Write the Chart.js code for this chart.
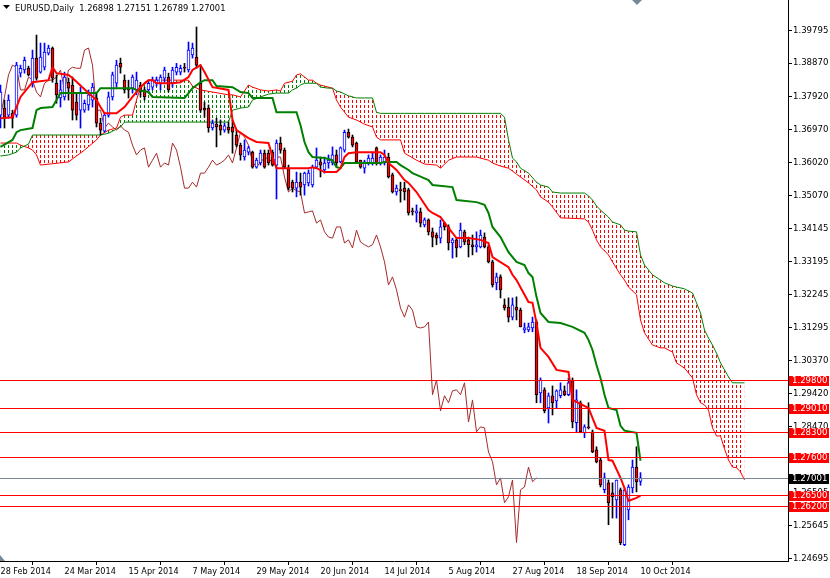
<!DOCTYPE html>
<html>
<head>
<meta charset="utf-8">
<title>EURUSD Daily</title>
<script src="https://cdn.jsdelivr.net/npm/chart.js@4.4.1/dist/chart.umd.min.js"></script>
<style>
  html, body { margin: 0; padding: 0; background: #fff; }
  canvas { display: block; }
</style>
</head>
<body>
<canvas id="chart" width="830" height="578"></canvas>
<script>
// daily bars, bar 0 = 28 Feb 2014 ... bar 160 = 10 Oct 2014
const opens = [
  1.3738,1.3758,1.3738,1.3743,1.3738,1.3858,1.3867,1.3872,1.3832,1.3901,
  1.3861,1.3875,1.3915,1.3930,1.3829,1.3787,1.3790,1.3832,1.3824,1.3775,
  1.3752,1.3752,1.3767,1.3781,1.3787,1.3715,1.3692,1.3738,1.3790,1.3829,
  1.3886,1.3838,1.3815,1.3815,1.3810,1.3824,1.3810,1.3810,1.3818,1.3829,
  1.3829,1.3844,1.3847,1.3829,1.3861,1.3861,1.3875,1.3867,1.3910,1.3904,
  1.3829,1.3758,1.3758,1.3701,1.3712,1.3709,1.3695,1.3704,1.3704,1.3681,
  1.3652,1.3618,1.3632,1.3632,1.3589,1.3601,1.3629,1.3629,1.3632,1.3595,
  1.3658,1.3638,1.3586,1.3546,1.3529,1.3546,1.3538,1.3544,1.3538,1.3589,
  1.3604,1.3581,1.3601,1.3601,1.3624,1.3604,1.3638,1.3689,1.3675,1.3658,
  1.3609,1.3586,1.3601,1.3601,1.3644,1.3601,1.3601,1.3618,1.3567,1.3518,
  1.3524,1.3529,1.3524,1.3464,1.3458,1.3461,1.3424,1.3438,1.3404,1.3395,
  1.3386,1.3429,1.3418,1.3372,1.3381,1.3361,1.3404,1.3381,1.3367,1.3361,
  1.3361,1.3389,1.3361,1.3318,1.3258,1.3275,1.3195,1.3189,1.3160,1.3189,
  1.3180,1.3123,1.3123,1.3129,1.3146,1.2943,1.2952,1.2900,1.2935,1.2920,
  1.2935,1.2949,1.2938,1.2980,1.2858,1.2915,1.2829,1.2846,1.2832,1.2780,
  1.2751,1.2666,1.2686,1.2657,1.2637,1.2666,1.2509,1.2608,1.2671,1.2731,
  1.26898
];
const highs = [
  1.3824,1.3781,1.3796,1.3752,1.3889,1.3881,1.3904,1.3878,1.3924,1.3967,
  1.3944,1.3944,1.3938,1.3933,1.3853,1.3838,1.3861,1.3844,1.3847,1.3801,
  1.3818,1.3781,1.3810,1.3829,1.3801,1.3729,1.3743,1.3804,1.3861,1.3895,
  1.3901,1.3853,1.3838,1.3853,1.3861,1.3832,1.3818,1.3838,1.3847,1.3847,
  1.3853,1.3875,1.3858,1.3875,1.3886,1.3881,1.3886,1.3947,1.3944,1.3990,
  1.3881,1.3775,1.3767,1.3724,1.3729,1.3724,1.3715,1.3718,1.3724,1.3695,
  1.3658,1.3667,1.3649,1.3635,1.3615,1.3638,1.3638,1.3638,1.3638,1.3667,
  1.3675,1.3644,1.3595,1.3552,1.3575,1.3572,1.3575,1.3581,1.3595,1.3644,
  1.3618,1.3618,1.3624,1.3647,1.3638,1.3647,1.3695,1.3698,1.3681,1.3661,
  1.3609,1.3609,1.3624,1.3629,1.3647,1.3624,1.3638,1.3629,1.3572,1.3538,
  1.3546,1.3546,1.3529,1.3472,1.3481,1.3472,1.3444,1.3441,1.3415,1.3401,
  1.3438,1.3432,1.3424,1.3386,1.3386,1.3429,1.3409,1.3389,1.3395,1.3404,
  1.3409,1.3401,1.3367,1.3323,1.3286,1.3281,1.3212,1.3215,1.3215,1.3218,
  1.3186,1.3143,1.3143,1.3160,1.3152,1.2986,1.2958,1.2943,1.2963,1.2952,
  1.2972,1.2963,1.2986,1.2986,1.2952,1.2920,1.2852,1.2915,1.2837,1.2789,
  1.2757,1.2714,1.2694,1.2686,1.2694,1.2671,1.2671,1.2680,1.2751,1.2789,
  1.27151
];
const lows = [
  1.3701,1.3701,1.3729,1.3701,1.3732,1.3847,1.3858,1.3850,1.3818,1.3838,
  1.3858,1.3867,1.3910,1.3832,1.3772,1.3761,1.3781,1.3781,1.3724,1.3724,
  1.3701,1.3746,1.3752,1.3761,1.3704,1.3681,1.3689,1.3732,1.3781,1.3818,
  1.3858,1.3801,1.3787,1.3801,1.3796,1.3790,1.3781,1.3801,1.3810,1.3821,
  1.3810,1.3832,1.3804,1.3818,1.3853,1.3853,1.3861,1.3861,1.3901,1.3872,
  1.3746,1.3732,1.3689,1.3695,1.3647,1.3681,1.3689,1.3686,1.3629,1.3647,
  1.3609,1.3609,1.3624,1.3586,1.3586,1.3595,1.3586,1.3595,1.3592,1.3498,
  1.3629,1.3586,1.3524,1.3518,1.3504,1.3509,1.3509,1.3535,1.3532,1.3586,
  1.3561,1.3572,1.3586,1.3595,1.3592,1.3601,1.3632,1.3672,1.3647,1.3601,
  1.3586,1.3572,1.3595,1.3595,1.3595,1.3595,1.3595,1.3558,1.3515,1.3509,
  1.3489,1.3495,1.3452,1.3452,1.3432,1.3418,1.3418,1.3395,1.3361,1.3367,
  1.3372,1.3409,1.3352,1.3329,1.3332,1.3358,1.3367,1.3332,1.3338,1.3346,
  1.3358,1.3358,1.3315,1.3246,1.3238,1.3215,1.3180,1.3146,1.3152,1.3152,
  1.3132,1.3115,1.3118,1.3118,1.2915,1.2915,1.2886,1.2857,1.2880,1.2900,
  1.2929,1.2935,1.2935,1.2843,1.2832,1.2829,1.2815,1.2840,1.2772,1.2743,
  1.2674,1.2657,1.2566,1.2585,1.2585,1.2509,1.2506,1.2580,1.2657,1.2660,
  1.26789
];
const closes = [
  1.3804,1.3732,1.3781,1.3729,1.3881,1.3872,1.3895,1.3853,1.3901,1.3844,
  1.3904,1.3918,1.3930,1.3844,1.3796,1.3810,1.3847,1.3815,1.3752,1.3738,
  1.3801,1.3772,1.3796,1.3818,1.3715,1.3695,1.3738,1.3790,1.3853,1.3881,
  1.3875,1.3810,1.3810,1.3847,1.3838,1.3804,1.3790,1.3829,1.3838,1.3838,
  1.3847,1.3867,1.3810,1.3867,1.3875,1.3872,1.3872,1.3924,1.3930,1.3881,
  1.3752,1.3752,1.3701,1.3715,1.3704,1.3695,1.3707,1.3695,1.3689,1.3652,
  1.3624,1.3638,1.3644,1.3589,1.3609,1.3629,1.3589,1.3601,1.3595,1.3658,
  1.3638,1.3589,1.3529,1.3529,1.3546,1.3532,1.3572,1.3572,1.3589,1.3609,
  1.3595,1.3601,1.3609,1.3624,1.3601,1.3644,1.3689,1.3675,1.3652,1.3604,
  1.3589,1.3604,1.3615,1.3615,1.3601,1.3618,1.3618,1.3561,1.3518,1.3529,
  1.3522,1.3518,1.3458,1.3461,1.3464,1.3429,1.3438,1.3404,1.3389,1.3386,
  1.3418,1.3418,1.3372,1.3381,1.3358,1.3409,1.3375,1.3367,1.3361,1.3367,
  1.3395,1.3361,1.3318,1.3252,1.3275,1.3238,1.3186,1.3160,1.3195,1.3180,
  1.3132,1.3129,1.3132,1.3146,1.2938,1.2980,1.2892,1.2935,1.2915,1.2949,
  1.2952,1.2938,1.2972,1.2860,1.2923,1.2832,1.2846,1.2843,1.2774,1.2746,
  1.2680,1.2700,1.2629,1.2646,1.2694,1.2515,1.2666,1.2674,1.2731,1.2689,
  1.27001
];

// Ichimoku lines at their turning bars
const tenkanBars = [0,3,4,5,8,12,13,14,17,18,22,24,25,26,29,31,33,35,37,38,39,43,45,47,48,50,51,53,57,58,
  59,62,64,67,68,69,77,78,79,81,84,85,86,87,89,95,96,97,99,101,102,104,107,108,110,112,114,117,120,122,
  123,127,128,129,132,133,134,135,137,139,142,143,147,149,151,152,153,155,156,157,159,160];
const tenkan = [1.3729,1.3732,1.3761,1.3790,1.3832,1.3838,1.3875,1.3858,1.3853,1.3844,
  1.3801,1.3781,1.3761,1.3743,1.3743,1.3761,1.3790,1.3818,1.3838,1.3838,
  1.3829,1.3829,1.3832,1.3847,1.3867,1.3881,1.3861,1.3818,1.3810,1.3724,
  1.3695,1.3672,1.3661,1.3658,1.3618,1.3586,1.3586,1.3589,1.3586,1.3575,
  1.3575,1.3586,1.3618,1.3629,1.3632,1.3632,1.3624,1.3601,1.3581,1.3552,
  1.3544,1.3518,1.3466,1.3458,1.3446,1.3415,1.3386,1.3386,1.3381,1.3372,
  1.3332,1.3303,1.3281,1.3266,1.3203,1.3201,1.3143,1.3072,1.3046,1.3009,
  1.3003,1.2923,1.2900,1.2843,1.2835,1.2751,1.2749,1.2700,1.2671,1.2634,
  1.2643,1.2649];

const kijunBars = [0,3,4,5,8,9,10,13,14,15,24,25,33,34,37,38,46,47,48,50,51,53,54,58,60,62,63,68,69,74,
  75,76,77,78,81,83,84,85,86,95,96,99,100,102,103,104,107,108,113,114,119,121,122,123,125,127,129,131,132,133,
  134,135,137,140,143,146,147,148,149,150,151,152,154,155,156,159,160];
const kijun = [1.3647,1.3667,1.3689,1.3695,1.3701,1.3752,1.3758,1.3761,1.3781,1.3801,
  1.3801,1.3815,1.3815,1.3810,1.3804,1.3790,1.3787,1.3801,1.3815,1.3832,
  1.3838,1.3838,1.3821,1.3818,1.3804,1.3801,1.3787,1.3787,1.3746,1.3746,
  1.3709,1.3661,1.3632,1.3618,1.3615,1.3609,1.3589,1.3586,1.3601,1.3601,
  1.3604,1.3604,1.3595,1.3581,1.3572,1.3567,1.3552,1.3538,1.3532,1.3495,
  1.3489,1.3481,1.3458,1.3418,1.3389,1.3346,1.3318,1.3309,1.3286,1.3275,
  1.3218,1.3172,1.3146,1.3143,1.3132,1.3115,1.3095,1.3066,1.3023,1.2986,
  1.2938,1.2900,1.2894,1.2849,1.2835,1.2829,1.2749];

// cloud (senkou spans), already shifted 26 bars ahead
const cloudBars = [0,2,4,5,7,8,9,10,
  17,19,21,24,25,27,28,29,30,31,
  33,34,35,36,37,47,48,50,57,58,
  60,62,63,65,67,69,70,71,72,73,
  74,75,76,77,78,79,80,82,83,84,
  85,87,89,91,93,94,95,100,101,104,
  106,109,110,112,114,119,122,123,125,126,
  127,128,129,130,132,134,135,137,138,140,
  146,147,148,149,150,152,153,155,156,157,
  159,160,161,163,165,166,168,169,171,173,
  174,175,176,177,178,179,180,181,182,183,
  184,185,186];
const spanA = [1.3658,1.3658,1.3658,1.3652,1.3644,1.3638,1.3624,1.3595,
  1.3604,1.3621,1.3638,1.3667,1.3681,1.3695,1.3698,1.3701,1.3732,1.3738,
  1.3738,1.3781,1.3818,1.3832,1.3838,1.3838,1.3821,1.3810,1.3796,1.3796,
  1.3790,1.3824,1.3818,1.3810,1.3807,1.3810,1.3807,1.3829,1.3832,1.3835,
  1.3853,1.3856,1.3847,1.3838,1.3838,1.3829,1.3824,1.3818,1.3815,1.3781,
  1.3761,1.3732,1.3724,1.3712,1.3704,1.3675,1.3667,1.3667,1.3629,1.3609,
  1.3598,1.3595,1.3586,1.3609,1.3618,1.3618,1.3609,1.3601,1.3592,1.3589,
  1.3586,1.3578,1.3569,1.3561,1.3544,1.3524,1.3504,1.3489,1.3475,1.3444,
  1.3441,1.3432,1.3409,1.3381,1.3361,1.3338,1.3318,1.3281,1.3266,1.3246,
  1.3224,1.3152,1.3115,1.3080,1.3072,1.3072,1.3060,1.3029,1.3014,1.2986,
  1.2938,1.2915,1.2909,1.2894,1.2843,1.2820,1.2820,1.2783,1.2751,1.2731,
  1.2729,1.2717,1.2694];
const spanB = [1.3621,1.3624,1.3632,1.3644,1.3655,1.3681,1.3681,1.3681,
  1.3681,1.3681,1.3681,1.3681,1.3681,1.3686,1.3692,1.3698,1.3704,1.3718,
  1.3718,1.3718,1.3718,1.3718,1.3718,1.3718,1.3718,1.3718,1.3718,1.3752,
  1.3758,1.3761,1.3781,1.3790,1.3798,1.3801,1.3801,1.3801,1.3801,1.3810,
  1.3815,1.3824,1.3829,1.3829,1.3829,1.3829,1.3818,1.3815,1.3815,1.3807,
  1.3804,1.3793,1.3787,1.3787,1.3787,1.3746,1.3743,1.3743,1.3743,1.3743,
  1.3743,1.3743,1.3743,1.3743,1.3743,1.3743,1.3743,1.3743,1.3743,1.3732,
  1.3667,1.3615,1.3604,1.3586,1.3572,1.3546,1.3538,1.3532,1.3518,1.3515,
  1.3515,1.3507,1.3495,1.3478,1.3466,1.3446,1.3432,1.3424,1.3409,1.3406,
  1.3404,1.3338,1.3309,1.3281,1.3266,1.3258,1.3249,1.3246,1.3241,1.3229,
  1.3201,1.3172,1.3123,1.3100,1.3080,1.3057,1.3029,1.3009,1.2989,1.2972,
  1.2972,1.2972,1.2972];

const dateTickBars = [0,16,32,48,64,80,96,112,128,144,160];
const dateLabels = ['28 Feb 2014','24 Mar 2014','15 Apr 2014','7 May 2014','29 May 2014','20 Jun 2014',
  '14 Jul 2014','5 Aug 2014','27 Aug 2014','18 Sep 2014','10 Oct 2014'];
const priceTicks = [1.39795,1.38870,1.37920,1.36970,1.36020,1.35070,1.34145,1.33195,1.32245,
  1.31295,1.30370,1.29420,1.28470,1.27520,1.26595,1.25645,1.24695];
const levels = [1.2980,1.2901,1.2830,1.2760,1.2650,1.2620];
const lastPrice = 1.27001;
const header = 'EURUSD,Daily  1.26898 1.27151 1.26789 1.27001';

const FONT = '"DejaVu Sans Condensed", "Liberation Sans", sans-serif';
const CHIKOU_SHIFT = 26;

const bars = opens.map((_, i) => i);
const rising = bars.map(i => closes[i] >= opens[i]);

function xy(xs, ys) {
  return xs.map((x, i) => ({ x, y: ys[i] }));
}

// dotted cloud fill: one dashed column per bar
function hatch(color) {
  const c = document.createElement('canvas');
  c.width = 4; c.height = 5;
  const g = c.getContext('2d');
  g.fillStyle = color;
  g.fillRect(0, 0, 1, 3);
  return g.createPattern(c, 'repeat');
}

const overlay = {
  id: 'overlay',
  afterDatasetsDraw(chart) {
    const { ctx, chartArea: a, scales: { y } } = chart;
    ctx.save();
    ctx.lineWidth = 1;
    const hline = (v, color) => {
      const py = Math.round(y.getPixelForValue(v)) + 0.5;
      ctx.strokeStyle = color;
      ctx.beginPath();
      ctx.moveTo(a.left, py);
      ctx.lineTo(a.right, py);
      ctx.stroke();
    };
    hline(lastPrice, '#778899');
    levels.forEach(v => hline(v, '#ff0000'));
    ctx.restore();
  },
  afterDraw(chart) {
    const { ctx, chartArea: a, scales: { x, y } } = chart;
    ctx.save();
    ctx.font = '9.5px ' + FONT;
    ctx.textBaseline = 'middle';
    const tag = (v, bg) => {
      const py = Math.round(y.getPixelForValue(v));
      ctx.fillStyle = bg;
      ctx.fillRect(a.right + 1, py - 4, 40, 10);
      ctx.fillStyle = '#fff';
      ctx.fillText(v.toFixed(5), a.right + 4, py + 1);
    };
    levels.forEach(v => tag(v, '#ff0000'));
    tag(lastPrice, '#000');

    ctx.fillStyle = '#000';
    ctx.beginPath();
    ctx.moveTo(3, 5); ctx.lineTo(10, 5); ctx.lineTo(6.5, 9);
    ctx.closePath();
    ctx.fill();
    ctx.font = '9.3px ' + FONT;
    ctx.textBaseline = 'alphabetic';
    ctx.fillText(header, 15, 11);

    ctx.fillStyle = '#778899';
    const sx = Math.round(x.getPixelForValue(bars.length - 2));
    ctx.beginPath();
    ctx.moveTo(sx - 5, a.top); ctx.lineTo(sx + 5, a.top); ctx.lineTo(sx, a.top + 5);
    ctx.closePath();
    ctx.fill();
    ctx.beginPath();
    ctx.moveTo(a.left, a.bottom - 6); ctx.lineTo(a.left, a.bottom); ctx.lineTo(a.left + 5, a.bottom);
    ctx.closePath();
    ctx.fill();
    ctx.restore();
  }
};

new Chart(document.getElementById('chart'), {
  type: 'line',
  data: {
    datasets: [
      {
        label: 'Senkou Span A',
        data: xy(cloudBars, spanA),
        borderColor: '#ff0000',
        borderWidth: 1,
        fill: { target: 1, above: hatch('#008000'), below: hatch('#ff0000') },
        order: 10
      },
      {
        label: 'Senkou Span B',
        data: xy(cloudBars, spanB),
        borderColor: '#008000',
        borderWidth: 1,
        fill: false,
        order: 9
      },
      {
        label: 'Chikou Span',
        data: closes.slice(CHIKOU_SHIFT).map((c, i) => ({ x: i, y: c })),
        borderColor: '#a52a2a',
        borderWidth: 1,
        fill: false,
        order: 8
      },
      {
        type: 'bar',
        label: 'wicks',
        data: bars.map(i => ({ x: i, y: [lows[i], highs[i]] })),
        backgroundColor: rising.map(r => r ? '#0000ff' : '#000000'),
        borderWidth: 0,
        barThickness: 1,
        grouped: false,
        order: 6
      },
      {
        type: 'bar',
        label: 'bodies',
        data: bars.map(i => ({ x: i, y: [Math.min(opens[i], closes[i]), Math.max(opens[i], closes[i])] })),
        backgroundColor: rising.map(r => r ? '#ffffff' : '#ff0000'),
        borderColor: rising.map(r => r ? '#0000ff' : '#000000'),
        borderWidth: 1,
        borderSkipped: false,
        barThickness: 3,
        minBarLength: 1,
        grouped: false,
        order: 5
      },
      {
        label: 'Kijun-sen',
        data: xy(kijunBars, kijun),
        borderColor: '#008000',
        borderWidth: 2,
        fill: false,
        order: 3
      },
      {
        label: 'Tenkan-sen',
        data: xy(tenkanBars, tenkan),
        borderColor: '#ff0000',
        borderWidth: 2,
        fill: false,
        order: 2
      }
    ]
  },
  options: {
    responsive: false,
    animation: false,
    devicePixelRatio: 1,
    layout: { padding: 0 },
    plugins: { legend: { display: false }, tooltip: { enabled: false } },
    elements: { point: { radius: 0 }, line: { tension: 0 } },
    scales: {
      x: {
        type: 'linear',
        min: -0.125,
        max: 196.875,
        offset: false,
        afterBuildTicks: s => { s.ticks = dateTickBars.map(v => ({ value: v })); },
        afterFit: s => { s.height = 17; s.paddingLeft = 0; s.paddingRight = 0; },
        grid: { drawOnChartArea: false, drawTicks: true, tickLength: 4, color: '#000' },
        border: { display: true, color: '#000' },
        ticks: {
          autoSkip: false, maxRotation: 0, align: 'start', padding: 1, color: '#000',
          font: { family: FONT, size: 9 },
          callback: (v, i) => dateLabels[i]
        }
      },
      y: {
        type: 'linear',
        position: 'right',
        min: 1.24622,
        max: 1.40673,
        afterBuildTicks: s => { s.ticks = priceTicks.map(v => ({ value: v })); },
        afterFit: s => { s.width = 42; s.paddingTop = 0; s.paddingBottom = 0; },
        grid: { drawOnChartArea: false, drawTicks: true, tickLength: 4, color: '#000' },
        border: { display: true, color: '#000' },
        ticks: {
          autoSkip: false, padding: 1, color: '#000',
          font: { family: FONT, size: 9.5 },
          callback: v => v.toFixed(5)
        }
      }
    }
  },
  plugins: [overlay]
});
</script>
</body>
</html>
